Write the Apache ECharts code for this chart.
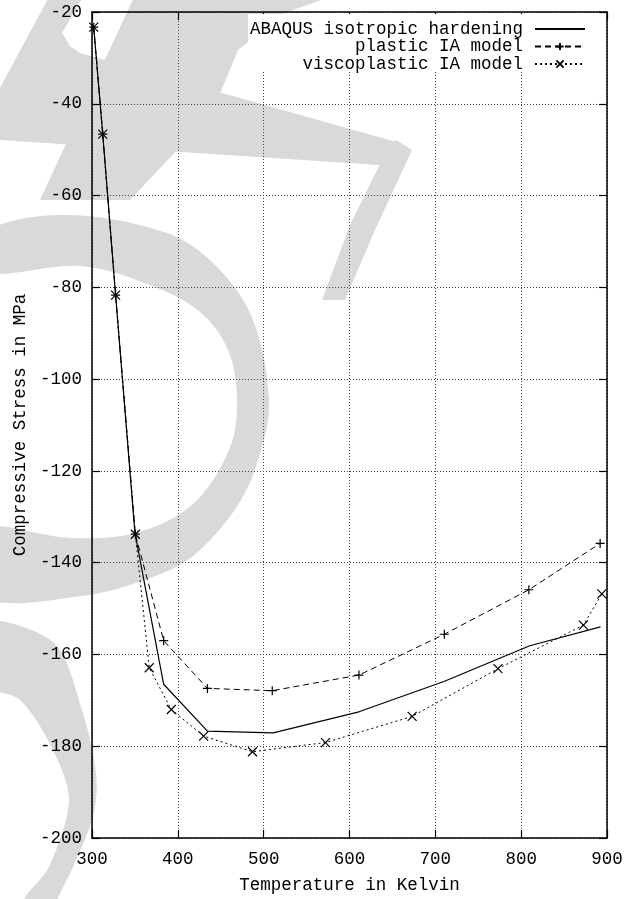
<!DOCTYPE html>
<html>
<head>
<meta charset="utf-8">
<script src="https://cdn.jsdelivr.net/npm/echarts@6/dist/echarts.min.js"></script>
<style>html,body{margin:0;padding:0;background:#fff}#c{width:639px;height:899px}</style>
</head>
<body>
<div id="c"></div>
<script>
// ---- data ----
const xTicks = [300, 400, 500, 600, 700, 800, 900];
const yTicks = [-200, -180, -160, -140, -120, -100, -80, -60, -40, -20];
const seriesNames = ['ABAQUS isotropic hardening', 'plastic IA model', 'viscoplastic IA model'];
const abaqusX = [302, 312.5, 327.5, 350, 383.5, 434.5, 511, 611, 710, 810, 892.5];
const abaqusY = [-23.3, -46.6, -81.7, -133.5, -166.5, -176.7, -177.1, -172.5, -165.9, -158.1, -154.0];
const plasticX = [302, 312.5, 327.5, 350.5, 383.5, 434.5, 510, 611, 710.5, 809, 892];
const plasticY = [-23.3, -46.6, -81.7, -133.8, -157.0, -167.4, -167.9, -164.5, -155.6, -145.9, -135.8];
const viscoX = [302, 312.5, 327.5, 350.5, 366.7, 392.4, 430, 487, 572, 673, 773, 872.5, 894];
const viscoY = [-23.3, -46.6, -81.7, -133.8, -162.9, -172.0, -177.8, -181.2, -179.2, -173.5, -163.1, -153.6, -146.8];
const xTitle = 'Temperature in Kelvin';
const yTitle = 'Compressive Stress in MPa';

const zip = (a, b) => a.map((v, i) => [v, b[i]]);
const FONT = 'Liberation Mono';
const GREY = '#d9d9d9';
const plusSym = 'path://M0,5L10,5M5,0L5,10';
const crossSym = 'path://M0,0L10,10M10,0L0,10';

const chart = echarts.init(document.getElementById('c'), null, {renderer: 'canvas'});

const baseX = {
  type: 'value', min: 300, max: 900, interval: 100,
  axisLine: {show: true, lineStyle: {color: '#000', width: 1.5}},
  axisTick: {show: true, inside: true, length: 8, lineStyle: {color: '#000', width: 1.2}},
  splitLine: {show: false}
};
const baseY = {
  type: 'value', min: -200, max: -20, interval: 20,
  axisLine: {show: true, lineStyle: {color: '#000', width: 1.5}},
  axisTick: {show: true, inside: true, length: 8, lineStyle: {color: '#000', width: 1.2}},
  splitLine: {show: false}
};

const legendCommon = {
  orient: 'vertical', align: 'right', right: 53, padding: 0,
  itemWidth: 50, itemHeight: 9,
  textStyle: {fontFamily: FONT, fontSize: 17.5, color: '#000', padding: [0, 7, 0, 0]},
  selectedMode: false
};

const wm = (points, smooth) => ({type: 'polygon', z: -10, silent: true,
  shape: {smooth: smooth || 0, points: points}, style: {fill: GREY}});

chart.setOption({
  animation: false,
  backgroundColor: '#fff',
  graphic: [
    // watermark (decorative, behind chart)
    wm([[-20, 235], [60, 215], [167, 233], [217, 267], [253, 320], [269, 400], [261, 450], [241, 500],
        [200, 550], [163, 573], [82, 596], [-20, 596], [-20, 530], [70, 538], [135, 533], [192, 505],
        [229, 450], [237, 400], [228, 350], [200, 312], [150, 285], [80, 266], [-20, 272]], 0.35),
    wm([[-20, 622], [53, 642], [82, 710], [96, 773], [94, 813], [73, 867], [55, 905], [50, 930],
        [15, 930], [24, 899], [49, 867], [69, 800], [53, 750], [20, 700], [-20, 683]], 0.3),
    wm([[50, -5], [84, -5], [62, 33], [0, 118], [0, 88]]),
    wm([[62, 33], [70, 46], [80, 53], [400, 143], [394, 166], [0, 140], [0, 118]]),
    wm([[135, -5], [335, -5], [282, 14], [238, 50], [212, 113], [130, 200], [40, 200]]),
    wm([[396, 140], [412, 150], [375, 230], [345, 300], [322, 300], [350, 225], [382, 160]]),
    // legend backing (key area hides the grid)
    {type: 'rect', z: 1, silent: true, shape: {x: 248, y: 14, width: 357, height: 58}, style: {fill: '#fff'}}
  ],
  grid: {left: 92, right: 32, top: 12, bottom: 56, show: false, containLabel: false},
  legend: [
    Object.assign({}, legendCommon, {data: [seriesNames[0]], top: 20, itemStyle: {opacity: 0}}),
    Object.assign({}, legendCommon, {data: [seriesNames[1]], top: 37.5}),
    Object.assign({}, legendCommon, {data: [seriesNames[2]], top: 55})
  ],
  xAxis: [
    Object.assign({}, baseX, {
      position: 'bottom',
      name: xTitle, nameLocation: 'middle', nameGap: 38,
      nameTextStyle: {fontFamily: FONT, fontSize: 17.5, color: '#000'},
      axisLabel: {fontFamily: FONT, fontSize: 17.5, color: '#000', margin: 12, formatter: v => String(v)},
      splitLine: {show: true, lineStyle: {color: '#444', width: 1, type: [1, 2]}}
    }),
    Object.assign({}, baseX, {position: 'top', axisLabel: {show: false}})
  ],
  yAxis: [
    Object.assign({}, baseY, {
      position: 'left',
      name: yTitle, nameLocation: 'middle', nameGap: 62, nameRotate: 90,
      nameTextStyle: {fontFamily: FONT, fontSize: 17.5, color: '#000'},
      axisLabel: {fontFamily: FONT, fontSize: 17.5, color: '#000', margin: 10, formatter: v => String(v)},
      splitLine: {show: true, lineStyle: {color: '#444', width: 1, type: [1, 2]}}
    }),
    Object.assign({}, baseY, {position: 'right', axisLabel: {show: false}})
  ],
  series: [
    {name: seriesNames[0], type: 'line', data: zip(abaqusX, abaqusY), symbol: 'none',
      color: '#000', lineStyle: {color: '#000', width: 1.2, type: 'solid'}, z: 3},
    {name: seriesNames[1], type: 'line', data: zip(plasticX, plasticY), symbol: plusSym, symbolSize: 9,
      color: '#000', lineStyle: {color: '#000', width: 1, type: [6, 4]},
      itemStyle: {color: '#000', borderColor: '#000', borderWidth: 1.2}, z: 3},
    {name: seriesNames[2], type: 'line', data: zip(viscoX, viscoY), symbol: crossSym, symbolSize: 9,
      color: '#000', lineStyle: {color: '#000', width: 1, type: [2, 3]},
      itemStyle: {color: '#000', borderColor: '#000', borderWidth: 1.2}, z: 3}
  ]
});
</script>
</body>
</html>
